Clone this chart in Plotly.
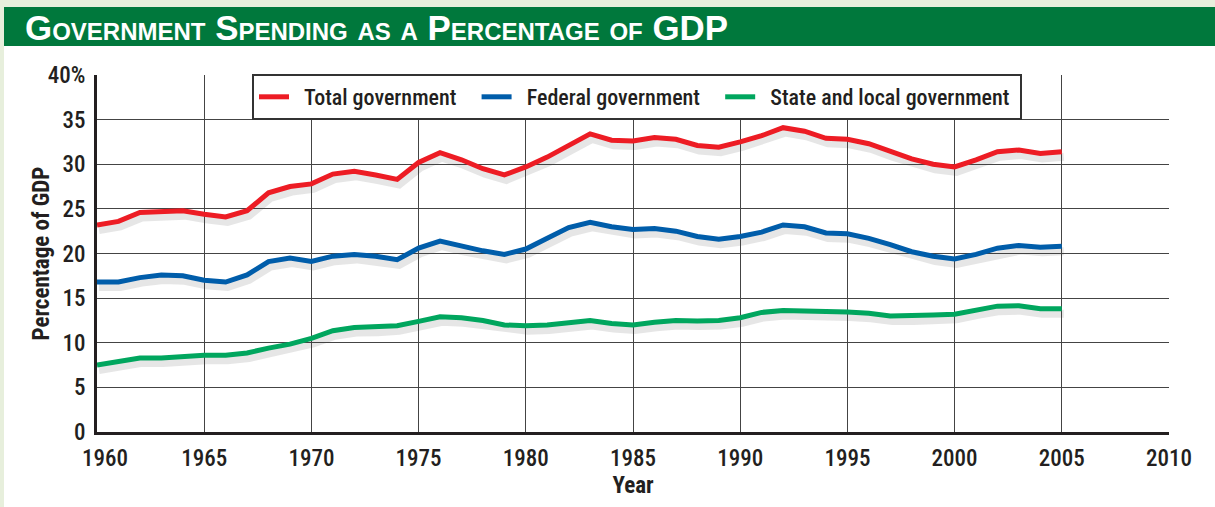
import plotly.graph_objects as go

# Government spending as a share of GDP, 1960-2005 (percent)
years = list(range(1960, 2006))

total_gov = [23.2, 23.6, 24.6, 24.7, 24.8, 24.4, 24.1, 24.8, 26.8, 27.5,
             27.8, 28.9, 29.2, 28.8, 28.3, 30.2, 31.3, 30.5, 29.5, 28.8,
             29.7, 30.8, 32.1, 33.4, 32.7, 32.6, 33.0, 32.8, 32.1, 31.9,
             32.5, 33.2, 34.1, 33.7, 32.9, 32.8, 32.3, 31.4, 30.6, 30.0,
             29.7, 30.5, 31.4, 31.6, 31.2, 31.4]

federal_gov = [16.8, 16.8, 17.3, 17.6, 17.5, 17.0, 16.8, 17.6, 19.1, 19.5,
               19.1, 19.7, 19.9, 19.7, 19.3, 20.6, 21.4, 20.8, 20.3, 19.9,
               20.5, 21.7, 22.9, 23.5, 23.0, 22.7, 22.8, 22.5, 21.9, 21.6,
               21.9, 22.4, 23.2, 23.0, 22.3, 22.2, 21.7, 21.0, 20.2, 19.7,
               19.4, 19.9, 20.6, 20.9, 20.7, 20.8]

state_local_gov = [7.5, 7.9, 8.3, 8.3, 8.5, 8.6, 8.6, 8.85, 9.4, 9.85,
                   10.5, 11.35, 11.7, 11.75, 11.9, 12.4, 12.9, 12.8, 12.5, 12.0,
                   11.9, 12.0, 12.3, 12.5, 12.15, 12.0, 12.3, 12.5, 12.45, 12.5,
                   12.8, 13.4, 13.6, 13.6, 13.5, 13.45, 13.3, 13.0, 13.0, 13.1,
                   13.2, 13.7, 14.1, 14.15, 13.8, 13.8]

series_names = ["Total government", "Federal government", "State and local government"]
series_colors = ["#ed1c24", "#005daa", "#00a65e"]
# trailing padding after each legend label (number of non-breaking spaces)
legend_pad = [3, 3, 1]

x_tick_vals = list(range(1960, 2011, 5))
x_tick_text = ["\u00a0\u00a0\u00a01960"] + [str(v) for v in x_tick_vals[1:]]
y_tick_vals = list(range(0, 41, 5))
y_tick_text = [str(v) for v in y_tick_vals[:-1]] + ["40%"]

INK = "#231f20"
COND = "Roboto Condensed, Roboto, sans-serif"
HEAD = "Liberation Sans, Arial, sans-serif"

W, H = 1215, 507
ML, MR, MT, MB = 97, 46, 75, 75
PW, PH = W - ML - MR, H - MT - MB


def px_x(p):
    return (p - ML) / PW


def px_y(p):
    return (H - MB - p) / PH


fig = go.Figure()

all_series = [total_gov, federal_gov, state_local_gov]

# soft drop shadows under each line (on the slightly offset primary axes)
for vals in all_series:
    fig.add_trace(go.Scatter(
        x=years, y=vals, mode="lines", xaxis="x", yaxis="y",
        line=dict(color="rgba(60,60,60,0.13)", width=8),
        hoverinfo="skip", showlegend=False,
    ))

for vals, name, color, pad in zip(all_series, series_names, series_colors, legend_pad):
    fig.add_trace(go.Scatter(
        x=years, y=vals, mode="lines", name="\u00a0\u00a0" + name + "\u00a0" * pad,
        xaxis="x2", yaxis="y2",
        line=dict(color=color, width=5),
    ))

# shadow axes: same scale, nudged a couple of pixels right and down
sx = 2 / (PW / 50)
sy = 5 / (PH / 40)

fig.update_layout(
    width=W, height=H,
    margin=dict(l=ML, r=MR, t=MT, b=MB),
    paper_bgcolor="#e7efdc",
    plot_bgcolor="rgba(0,0,0,0)",
    xaxis=dict(range=[1960 - sx, 2010 - sx], visible=False, fixedrange=True),
    yaxis=dict(range=[0 + sy, 40 + sy], visible=False, fixedrange=True),
    xaxis2=dict(
        overlaying="x", anchor="y2", range=[1960, 2010],
        tickmode="array", tickvals=x_tick_vals, ticktext=x_tick_text,
        showgrid=True, gridcolor="#444444", gridwidth=1,
        showline=True, linecolor=INK, linewidth=3,
        ticks="", zeroline=False, ticklabelstandoff=3,
        tickfont=dict(family=COND, size=23, weight=500, color=INK),
        title=dict(text="Year", font=dict(family=COND, size=23, weight="bold", color=INK), standoff=6),
    ),
    yaxis2=dict(
        overlaying="y", anchor="x2", side="left", range=[0, 40],
        tickmode="array", tickvals=y_tick_vals, ticktext=y_tick_text,
        showgrid=True, gridcolor="#444444", gridwidth=1,
        showline=True, linecolor=INK, linewidth=3,
        ticks="", zeroline=False, ticklabelstandoff=4,
        tickfont=dict(family=COND, size=23, weight=500, color=INK),
    ),
    legend=dict(
        orientation="h", x=px_x(252), y=px_y(74), xanchor="left", yanchor="top",
        bgcolor="white", bordercolor="#333333", borderwidth=2,
        font=dict(family=COND, size=22, weight=500, color=INK),
    ),
    showlegend=True,
)

# vertical axis title, set close in beside the tick labels
fig.add_annotation(
    text="Percentage of GDP", xref="paper", yref="paper",
    x=px_x(41), y=0.5, textangle=-90, showarrow=False,
    xanchor="center", yanchor="middle",
    font=dict(family=COND, size=23, weight="bold", color=INK),
)

# white card behind the chart and the green heading band
fig.add_shape(type="rect", xref="paper", yref="paper",
              x0=px_x(4), x1=px_x(W + 5), y0=px_y(H + 5), y1=px_y(45),
              fillcolor="white", line=dict(width=0), layer="below")
fig.add_shape(type="rect", xref="paper", yref="paper",
              x0=px_x(4), x1=px_x(W + 5), y0=px_y(46), y1=px_y(7),
              fillcolor="#00783c", line=dict(width=0), layer="below")

fig.add_annotation(
    text="<b>Government Spending as a Percentage of GDP</b>", xref="paper", yref="paper",
    x=px_x(23), y=px_y(27), xanchor="left", yanchor="middle", showarrow=False,
    font=dict(family=HEAD, size=34.9, color="white", variant="small-caps"),
)

fig.write_html("out.html")
